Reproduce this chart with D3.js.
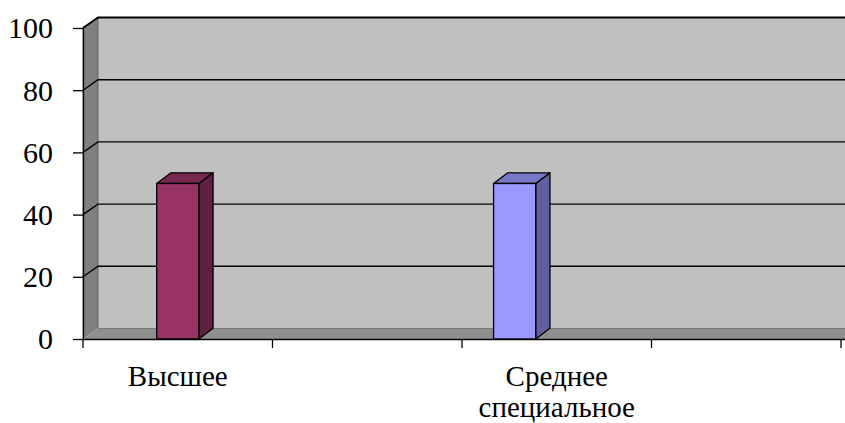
<!DOCTYPE html>
<html>
<head>
<meta charset="utf-8">
<script src="https://cdn.jsdelivr.net/npm/d3@7"></script>
<style>
  body { margin: 0; background: #fff; }
  svg { display: block; }
  text { font-family: "Liberation Serif", "Times New Roman", serif; fill: #000; }
</style>
</head>
<body>
<div id="chart"></div>
<script>
// categories on the x axis (labels shown on every other one, as in the original)
const categories = ["Высшее", "", "Среднее специальное", ""];
const seriesNames = ["Ряд 1", "Ряд 2", "Ряд 3"];
const seriesColors = ["#9999FF", "#993366", "#FFFFCC"];
// one array per series, null = no bar
const series1 = [null, null, 50, null];
const series2 = [50, null, null, null];
const series3 = [null, null, null, null];
const yTicks = [0, 20, 40, 60, 80, 100];

const W = 845, H = 423;
const margin = { left: 83, right: 4, top: 28, bottom: 84 };
// oblique depth of the 3d walls
const DX = 15, DY = -10.5;

let svg = d3.select('#chart').append('svg')
    .attr('width', W).attr('height', H);

let xScale = d3.scaleBand().domain(d3.range(categories.length))
    .range([margin.left, W - margin.right]).paddingInner(0).paddingOuter(0);
// gap width 150% between clusters
let xSub = d3.scaleBand().domain(d3.range(seriesNames.length))
    .range([0, xScale.bandwidth()]).paddingInner(0).paddingOuter(0.75);
let yScale = d3.scaleLinear().domain([0, 100]).range([H - margin.bottom, margin.top]);

let x0 = xScale.range()[0], x1 = xScale.range()[1] + DX + 20;
let yTop = yScale(100), yBot = yScale(0);

// back wall
svg.append('rect')
    .attr('x', x0 + DX).attr('y', yTop + DY)
    .attr('width', x1 - x0).attr('height', yBot - yTop)
    .attr('fill', '#C0C0C0');

// left side wall
svg.append('path')
    .attr('d', `M${x0},${yBot}L${x0},${yTop}L${x0 + DX},${yTop + DY}L${x0 + DX},${yBot + DY}Z`)
    .attr('fill', '#808080').attr('stroke', '#555').attr('stroke-width', 0.8);

// floor
svg.append('path')
    .attr('d', `M${x0},${yBot}L${x1},${yBot}L${x1 + DX},${yBot + DY}L${x0 + DX},${yBot + DY}Z`)
    .attr('fill', '#8F8F8F');
svg.append('line')
    .attr('x1', x0 + DX).attr('x2', x1 + DX)
    .attr('y1', yBot + DY).attr('y2', yBot + DY)
    .attr('stroke', '#777').attr('stroke-width', 1);
svg.append('line')
    .attr('x1', x0).attr('x2', x0 + DX)
    .attr('y1', yBot).attr('y2', yBot + DY)
    .attr('stroke', '#aaa').attr('stroke-width', 1);

// gridlines: diagonal across the side wall, then along the back wall
svg.append('g').selectAll('path')
    .data(yTicks.filter(d => d > 0))
    .join('path')
    .attr('d', d => `M${x0},${yScale(d)}L${x0 + DX},${yScale(d) + DY}L${x1 + DX},${yScale(d) + DY}`)
    .attr('fill', 'none')
    .attr('stroke', '#000')
    .attr('stroke-width', d => d === 100 ? 2 : 1.4);

// bars
let allSeries = [series1, series2, series3];
let barData = [];
allSeries.forEach((vals, s) => {
    vals.forEach((v, i) => {
        if (v !== null) barData.push({ cat: i, s: s, value: v });
    });
});

let bdx = DX * 0.95, bdy = DY * 1.02;
let bars = svg.append('g').selectAll('g').data(barData).join('g');
bars.each(function (d) {
    let g = d3.select(this);
    let bx = xScale(d.cat) + xSub(d.s);
    let bw = xSub.bandwidth();
    let by = yScale(d.value);
    let col = d3.color(seriesColors[d.s]);
    // side face
    g.append('path')
        .attr('d', `M${bx + bw},${yBot}L${bx + bw},${by}L${bx + bw + bdx},${by + bdy}L${bx + bw + bdx},${yBot + bdy}Z`)
        .attr('fill', col.darker(1.3))
        .attr('stroke', '#000').attr('stroke-width', 1.3).attr('stroke-linejoin', 'round');
    // top face
    g.append('path')
        .attr('d', `M${bx},${by}L${bx + bw},${by}L${bx + bw + bdx},${by + bdy}L${bx + bdx},${by + bdy}Z`)
        .attr('fill', col.darker(0.7))
        .attr('stroke', '#000').attr('stroke-width', 1.3).attr('stroke-linejoin', 'round');
    // front face
    g.append('rect')
        .attr('x', bx).attr('y', by)
        .attr('width', bw).attr('height', yBot - by)
        .attr('fill', col)
        .attr('stroke', '#000').attr('stroke-width', 1.3);
});

// y axis
let yAxis = svg.append('g').attr('transform', `translate(${x0},0)`)
    .call(d3.axisLeft(yScale).tickValues(yTicks).tickSize(10).tickPadding(20).tickSizeOuter(0));
yAxis.select('.domain').attr('stroke', '#000').attr('stroke-width', 1.3);
yAxis.selectAll('.tick line').attr('stroke', '#000').attr('stroke-width', 1.3);
yAxis.selectAll('.tick text')
    .attr('font-family', '"Liberation Serif", "Times New Roman", serif')
    .attr('font-size', 30)
    .attr('fill', '#000')
    .attr('dy', '0.33em');

// x axis
let xTickPos = d3.range(categories.length + 1).map(i =>
    i < categories.length ? xScale(i) : xScale.range()[1]);
svg.append('line')
    .attr('x1', x0).attr('x2', W)
    .attr('y1', yBot + 0.5).attr('y2', yBot + 0.5)
    .attr('stroke', '#000').attr('stroke-width', 1.5);
svg.append('g').selectAll('line').data(xTickPos).join('line')
    .attr('x1', d => d).attr('x2', d => d)
    .attr('y1', yBot).attr('y2', yBot + 9)
    .attr('stroke', '#000').attr('stroke-width', 1.3);

let labels = svg.append('g').selectAll('text')
    .data(categories.map((c, i) => ({ c, i })).filter(d => d.c !== ''))
    .join('text')
    .attr('text-anchor', 'middle')
    .attr('font-size', 29)
    .attr('x', d => xScale(d.i) + xScale.bandwidth() / 2)
    .attr('y', 386);
labels.selectAll('tspan')
    .data(d => d.c.split(' ').map(w => ({ w, x: xScale(d.i) + xScale.bandwidth() / 2 })))
    .join('tspan')
    .attr('x', d => d.x)
    .attr('dy', (d, i) => i === 0 ? 0 : 31)
    .text(d => d.w);
</script>
</body>
</html>
